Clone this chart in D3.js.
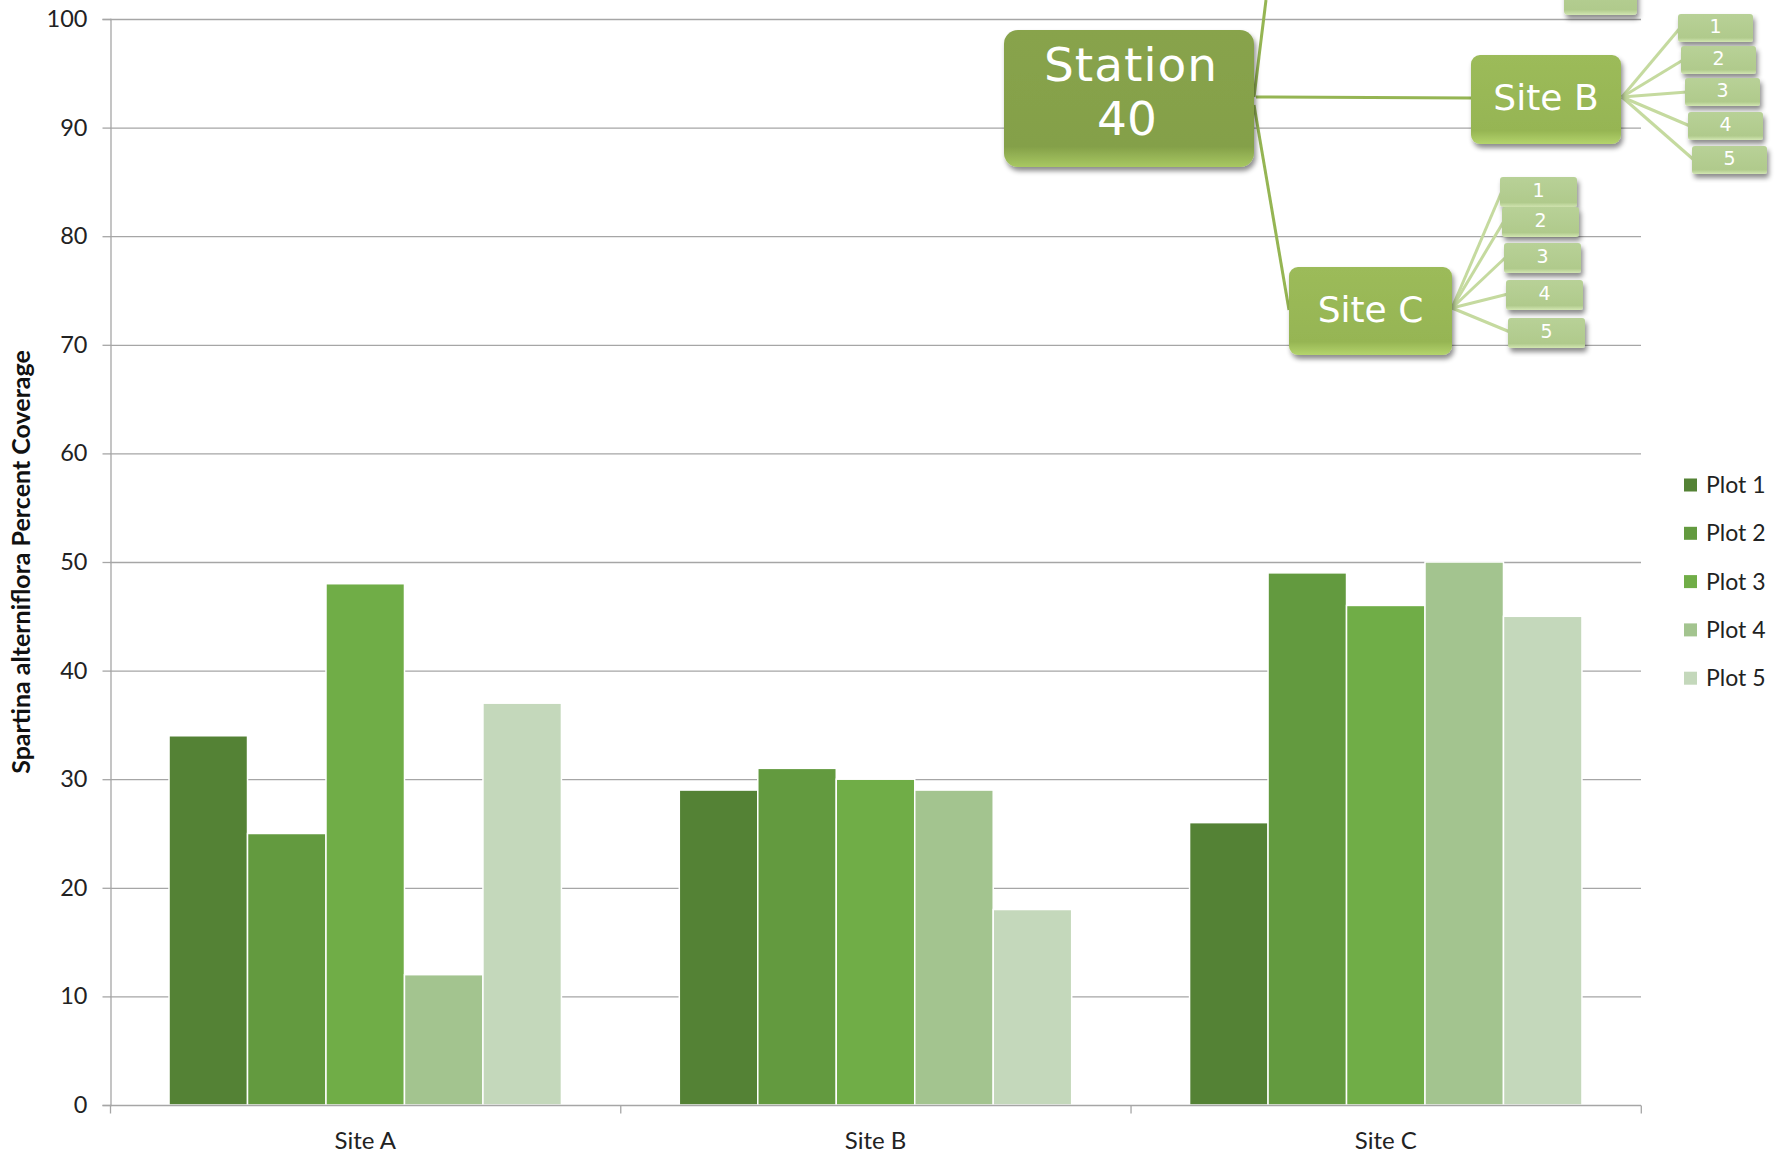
<!DOCTYPE html>
<html><head><meta charset="utf-8">
<script src="https://cdn.jsdelivr.net/npm/d3@7/dist/d3.min.js"></script>
<style>
html,body{margin:0;padding:0;background:#fff;}
svg{display:block;}
</style></head><body>
<script>
const sites = ["Site A","Site B","Site C"];
const plots = ["Plot 1","Plot 2","Plot 3","Plot 4","Plot 5"];
const plot1 = [34,29,26];
const plot2 = [25,31,49];
const plot3 = [48,30,46];
const plot4 = [12,29,50];
const plot5 = [37,18,45];
const seriesValues = [plot1,plot2,plot3,plot4,plot5];
const plotColors = ["#548235","#639a3f","#70ad47","#a3c48f","#c4d8bb"];
const yTicks = [0,10,20,30,40,50,60,70,80,90,100];
const yTitle = "Spartina alterniflora Percent Coverage";
// diagram labels
const stationLabel = ["Station","40"];
const siteNodes = ["Site B","Site C"];
const plotNumbers = ["1","2","3","4","5"];

const W=1780,H=1154;
const svg=d3.select("body").append("svg").attr("width",W).attr("height",H)
 .style("font-family","Lato, 'Open Sans', sans-serif");

const x0=d3.scaleBand().domain(sites).range([110,1641]).paddingInner(0.231).paddingOuter(0.1157);
const x1=d3.scaleBand().domain(plots).range([0,x0.bandwidth()]).padding(0);
const y=d3.scaleLinear().domain([0,100]).range([1105,19]);

// gridlines
svg.append("g").selectAll("line").data(yTicks.filter(d=>d>0)).join("line")
 .attr("x1",110).attr("x2",1641).attr("y1",d=>y(d)+0.5).attr("y2",d=>y(d)+0.5)
 .attr("stroke","#a6a6a6").attr("stroke-width",1.3);

// y axis
const yAxis=svg.append("g").attr("transform","translate(110.5,0)")
 .call(d3.axisLeft(y).tickValues(yTicks).tickSize(8).tickPadding(15));
yAxis.select(".domain").attr("stroke","#a6a6a6").attr("stroke-width",1.3);
yAxis.selectAll(".tick line").attr("stroke","#a6a6a6").attr("stroke-width",1.3);
yAxis.selectAll(".tick text").attr("font-size",23.5).attr("fill","#222").attr("font-family","Lato");

// bars
const groups=svg.append("g").selectAll("g").data(sites).join("g")
 .attr("transform",d=>`translate(${x0(d)},0)`);
groups.selectAll("rect").data((s,i)=>plots.map((p,j)=>({p,v:seriesValues[j][i],j}))).join("rect")
 .attr("x",d=>x1(d.p)).attr("width",x1.bandwidth())
 .attr("y",d=>y(d.v)).attr("height",d=>y(0)-y(d.v))
 .attr("fill",d=>plotColors[d.j]).attr("stroke","#fff").attr("stroke-width",1.5);

// x axis
const xAxisG=svg.append("g").attr("transform",`translate(0,${y(0)+0.5})`);
xAxisG.append("line").attr("x1",110).attr("x2",1641).attr("stroke","#a6a6a6").attr("stroke-width",1.3);
const step=x0.step();
const bounds=[0,1,2,3].map(i=>x0.range()[0]+i*step);
xAxisG.selectAll("line.tk").data(bounds).join("line").attr("class","tk")
 .attr("x1",d=>d+0.5).attr("x2",d=>d+0.5).attr("y1",0).attr("y2",8).attr("stroke","#a6a6a6").attr("stroke-width",1.3);
xAxisG.selectAll("text").data(sites).join("text")
 .attr("x",d=>x0(d)+x0.bandwidth()/2).attr("y",43).attr("text-anchor","middle")
 .attr("font-size",24).attr("fill","#222").text(d=>d);

// y title
svg.append("text").attr("transform","translate(30,562) rotate(-90)").attr("text-anchor","middle")
 .attr("font-size",25).attr("font-weight","bold").attr("fill","#111").text(yTitle);

// legend
const lg=svg.append("g").selectAll("g").data(plots).join("g")
 .attr("transform",(d,i)=>`translate(1684,${485+i*48.3})`);
lg.append("rect").attr("x",0).attr("y",-6.5).attr("width",13).attr("height",13).attr("fill",(d,i)=>plotColors[i]);
lg.append("text").attr("x",22).attr("y",0).attr("dy","0.35em").attr("font-size",23).attr("fill","#222").text(d=>d);

// ---- diagram ----
const defs=svg.append("defs");
const f=defs.append("filter").attr("id","sh").attr("x","-20%").attr("y","-20%").attr("width","140%").attr("height","150%");
f.append("feDropShadow").attr("dx",2).attr("dy",4).attr("stdDeviation",2.5).attr("flood-color","#000").attr("flood-opacity",0.45);
function grad(id,c1,c2,c3){
 const g=defs.append("linearGradient").attr("id",id).attr("x1",0).attr("x2",0).attr("y1",0).attr("y2",1);
 g.append("stop").attr("offset","0%").attr("stop-color",c1);
 g.append("stop").attr("offset","85%").attr("stop-color",c2);
 g.append("stop").attr("offset","100%").attr("stop-color",c3);
}
grad("gStation","#88a34c","#84a049","#a8c862");
grad("gSite","#9cbb5a","#96b553","#b4d46c");
grad("gSmall","#b8d197","#b0ca8c","#d2e6b2");

const dg=svg.append("g").style("font-family","'DejaVu Sans', Verdana, sans-serif");
// connectors
const main=[[1254,97,1266,0],[1256,97,1471,98],[1254,105,1289,310]];
dg.selectAll("line.m").data(main).join("line").attr("class","m")
 .attr("x1",d=>d[0]).attr("y1",d=>d[1]).attr("x2",d=>d[2]).attr("y2",d=>d[3])
 .attr("stroke","#95b553").attr("stroke-width",3);
const bBoxes=[[1678,14],[1681,46],[1685,78],[1688,112],[1692,146]];
const cBoxes=[[1500,177],[1502,207],[1504,243],[1506,280],[1508,318]];
dg.selectAll("line.b").data(bBoxes).join("line").attr("class","b")
 .attr("x1",1622).attr("y1",97).attr("x2",d=>d[0]+2).attr("y2",d=>d[1]+14)
 .attr("stroke","#c5da9f").attr("stroke-width",3);
dg.selectAll("line.c").data(cBoxes).join("line").attr("class","c")
 .attr("x1",1452).attr("y1",308).attr("x2",d=>d[0]+2).attr("y2",d=>d[1]+14)
 .attr("stroke","#c5da9f").attr("stroke-width",3);

// top cut box (site A's last plot)
dg.append("rect").attr("x",1564).attr("y",-20).attr("width",73).attr("height",35).attr("rx",4)
 .attr("fill","url(#gSmall)").attr("filter","url(#sh)");

// station
dg.append("rect").attr("x",1004).attr("y",30).attr("width",250).attr("height",137).attr("rx",14)
 .attr("fill","url(#gStation)").attr("filter","url(#sh)");
dg.append("text").attr("x",1131).attr("y",81).attr("text-anchor","middle")
 .attr("font-size",47).attr("letter-spacing",1).attr("fill","#fff").text(stationLabel[0]);
dg.append("text").attr("x",1127).attr("y",135).attr("text-anchor","middle")
 .attr("font-size",47).attr("fill","#fff").text(stationLabel[1]);

// site boxes
const siteBoxes=[[1471,55,150,89],[1289,267,163,88]];
siteBoxes.forEach((b,i)=>{
 dg.append("rect").attr("x",b[0]).attr("y",b[1]).attr("width",b[2]).attr("height",b[3]).attr("rx",9)
  .attr("fill","url(#gSite)").attr("filter","url(#sh)");
 dg.append("text").attr("x",b[0]+b[2]/2).attr("y",b[1]+b[3]/2-2).attr("dy","0.36em").attr("text-anchor","middle")
  .attr("font-size",36).attr("fill","#fff").text(siteNodes[i]);
});

// small plot boxes
function smalls(arr,w,h){
 arr.forEach((b,i)=>{
  dg.append("rect").attr("x",b[0]).attr("y",b[1]).attr("width",w).attr("height",h).attr("rx",3)
   .attr("fill","url(#gSmall)").attr("filter","url(#sh)");
  dg.append("text").attr("x",b[0]+w/2).attr("y",b[1]+h/2-2).attr("dy","0.36em").attr("text-anchor","middle")
   .attr("font-size",19).attr("fill","#fff").text(plotNumbers[i]);
 });
}
smalls(bBoxes,75,28);
smalls(cBoxes,77,30);
</script>
</body></html>
